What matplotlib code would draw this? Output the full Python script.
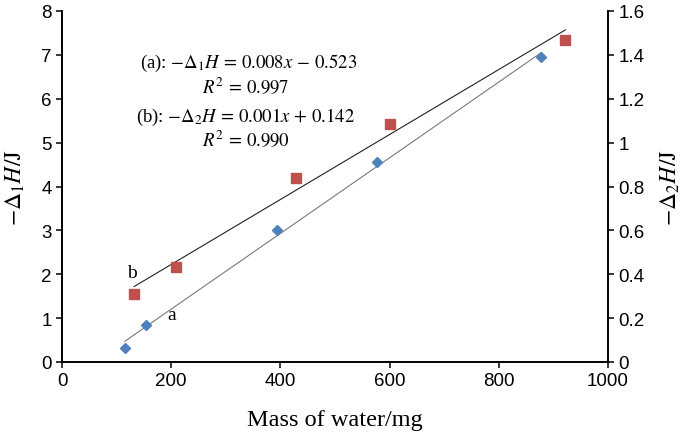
import numpy as np
import matplotlib
matplotlib.use("Agg")
import matplotlib.pyplot as plt

# series a: -d1H (left axis), series b: -d2H (right axis)
mass_a = [115, 153, 394, 577, 878]
dh1 = [0.31, 0.85, 3.00, 4.55, 6.95]
mass_b = [132, 208, 428, 601, 922]
dh2 = [0.310, 0.434, 0.838, 1.086, 1.467]

left_ticks = [0, 1, 2, 3, 4, 5, 6, 7, 8]
right_ticks = [0, 0.2, 0.4, 0.6, 0.8, 1.0, 1.2, 1.4, 1.6]
x_ticks = [0, 200, 400, 600, 800, 1000]

plt.rcParams["mathtext.fontset"] = "stix"
plt.rcParams["font.family"] = "Liberation Sans"
serif = "Liberation Serif"

fig = plt.figure(figsize=(6.85, 4.35), dpi=100)
ax = fig.add_axes([62 / 685, 72 / 435, 546 / 685, 351 / 435])
ax2 = ax.twinx()

for a in (ax, ax2):
    a.spines["top"].set_visible(False)
    for s in ("left", "right", "bottom"):
        a.spines[s].set_linewidth(1.2)
    a.tick_params(direction="out", length=4, width=1.1, labelsize=13.5)

ax.set_xlim(0, 1000)
ax.set_ylim(0, 8)
ax2.set_ylim(0, 1.6)
ax.set_xticks(x_ticks)
ax.set_yticks(left_ticks)
ax2.set_yticks(right_ticks)
ax2.set_yticklabels([f"{t:g}" for t in right_ticks])

# fit lines
pa = np.polyfit(mass_a, dh1, 1)
xa = np.array([min(mass_a), max(mass_a)])
ax.plot(xa, np.polyval(pa, xa), color="#7a7a7a", lw=0.8, zorder=2)
pb = np.polyfit(mass_b, dh2, 1)
xb = np.array([min(mass_b), max(mass_b)])
ax2.plot(xb, np.polyval(pb, xb), color="#222222", lw=0.8, zorder=2)

ax.plot(mass_a, dh1, "D", color="#4F81BD", ms=5.5, mec="#4F81BD", zorder=3)
ax2.plot(mass_b, dh2, "s", color="#C0504D", ms=7, mec="#C0504D", zorder=3)

ax.text(201, 1.08, "a", fontsize=14, family=serif, ha="center", va="center")
ax.text(128, 2.03, "b", fontsize=14, family=serif, ha="center", va="center")

eq = dict(fontsize=13.5, family=serif, ha="center", va="center", transform=fig.transFigure)
fig.text(249 / 685, 1 - 63 / 435, r"(a): $-\Delta_1 H\,=\,0.008x\,-\,0.523$", **eq)
fig.text(246 / 685, 1 - 87 / 435, r"$R^2\,=\,0.997$", **eq)
fig.text(246 / 685, 1 - 117 / 435, r"(b): $-\Delta_2 H\,=\,0.001x\,+\,0.142$", **eq)
fig.text(246 / 685, 1 - 140 / 435, r"$R^2\,=\,0.990$", **eq)

ax.set_xlabel("Mass of water/mg", fontsize=17.5, family=serif, labelpad=14)
ax.set_ylabel(r"$-\Delta_1 H/\mathrm{J}$", fontsize=17, labelpad=10)
ax2.set_ylabel(r"$-\Delta_2 H/\mathrm{J}$", fontsize=17, labelpad=10)

fig.savefig("out.png", dpi=100)
